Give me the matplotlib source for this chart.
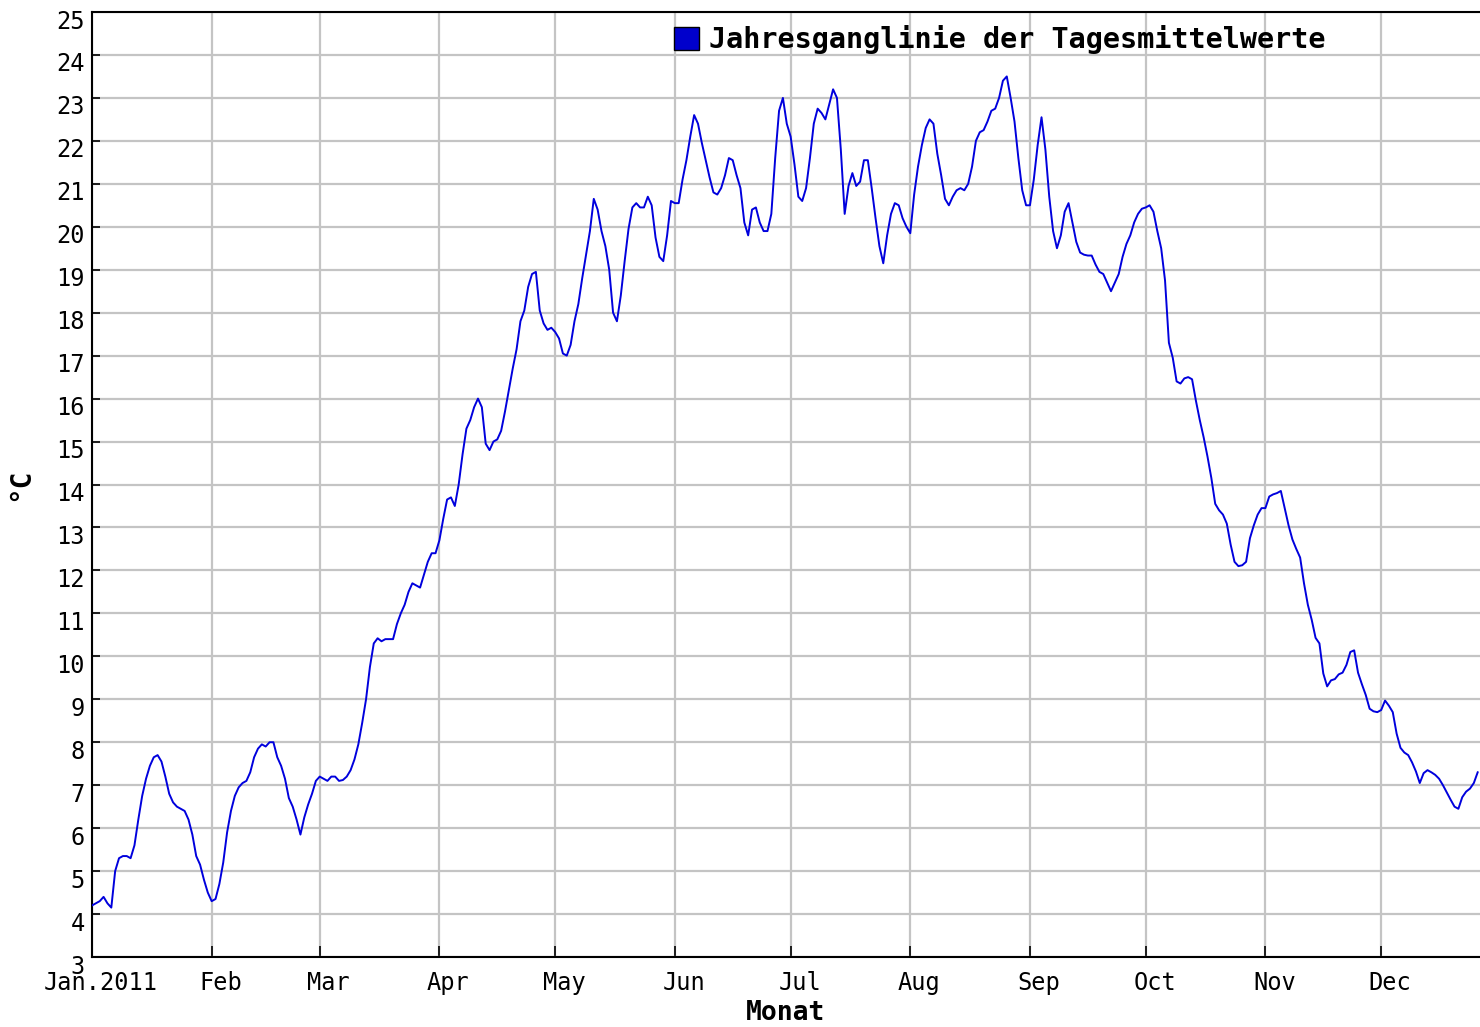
import numpy as np
import matplotlib
matplotlib.use("Agg")
import matplotlib.pyplot as plt
import matplotlib.transforms as mtransforms
from matplotlib.patches import Patch

# Tagesmittelwerte 2011 (°C), ein Wert pro Tag ab 1. Januar
jan = [4.2, 4.25, 4.3, 4.4, 4.25, 4.15, 5.0, 5.3, 5.35, 5.35, 5.3, 5.6, 6.2, 6.75, 7.15, 7.45,
       7.65, 7.7, 7.55, 7.2, 6.8, 6.6, 6.5, 6.45, 6.4, 6.2, 5.85, 5.35, 5.15, 4.8, 4.5]
feb = [4.3, 4.35, 4.7, 5.2, 5.9, 6.4, 6.75, 6.95, 7.05, 7.1, 7.3, 7.65, 7.85, 7.95, 7.9, 8.0,
       8.0, 7.65, 7.45, 7.15, 6.7, 6.5, 6.2, 5.85, 6.25, 6.55, 6.8, 7.1]
mar = [7.2, 7.15, 7.1, 7.2, 7.2, 7.1, 7.12, 7.2, 7.35, 7.6, 7.95, 8.45, 9.0, 9.75, 10.3, 10.42,
       10.35, 10.4, 10.4, 10.4, 10.75, 11.0, 11.2, 11.5, 11.7, 11.65, 11.6, 11.9, 12.2, 12.4, 12.4]
apr = [12.7, 13.2, 13.65, 13.7, 13.5, 14.0, 14.7, 15.3, 15.5, 15.8, 16.0, 15.8, 14.95, 14.8, 15.0,
       15.05, 15.25, 15.7, 16.2, 16.7, 17.15, 17.8, 18.05, 18.6, 18.9, 18.95, 18.05, 17.75, 17.6, 17.65]
may = [17.55, 17.4, 17.05, 17.0, 17.25, 17.8, 18.2, 18.8, 19.35, 19.9, 20.65, 20.4, 19.9, 19.55,
       19.0, 18.0, 17.8, 18.4, 19.2, 19.95, 20.45, 20.55, 20.45, 20.45, 20.7, 20.5, 19.75, 19.3,
       19.2, 19.8, 20.6]
jun = [20.55, 20.55, 21.1, 21.55, 22.1, 22.6, 22.4, 21.95, 21.55, 21.15, 20.8, 20.75, 20.9, 21.2,
       21.6, 21.55, 21.2, 20.9, 20.1, 19.8, 20.4, 20.45, 20.1, 19.9, 19.9, 20.3, 21.6, 22.7, 23.0, 22.4]
jul = [22.1, 21.45, 20.7, 20.6, 20.9, 21.6, 22.4, 22.75, 22.65, 22.5, 22.85, 23.2, 23.0, 21.8,
       20.3, 20.95, 21.25, 20.95, 21.05, 21.55, 21.55, 20.9, 20.2, 19.55, 19.15, 19.8, 20.3, 20.55,
       20.5, 20.2, 20.0]
aug = [19.85, 20.75, 21.4, 21.9, 22.3, 22.5, 22.4, 21.7, 21.2, 20.65, 20.5, 20.7, 20.85, 20.9,
       20.85, 21.0, 21.4, 22.0, 22.2, 22.25, 22.45, 22.7, 22.75, 23.0, 23.4, 23.5, 23.0, 22.45,
       21.6, 20.85, 20.5]
sep = [20.5, 21.1, 21.9, 22.55, 21.8, 20.7, 19.9, 19.5, 19.8, 20.35, 20.55, 20.1, 19.65, 19.4,
       19.35, 19.33, 19.33, 19.12, 18.95, 18.9, 18.7, 18.5, 18.7, 18.9, 19.3, 19.6, 19.8, 20.1,
       20.3, 20.42]
oct_ = [20.45, 20.5, 20.35, 19.9, 19.5, 18.75, 17.3, 16.95, 16.4, 16.35, 16.47, 16.5, 16.45, 15.95,
        15.5, 15.1, 14.65, 14.15, 13.55, 13.4, 13.3, 13.09, 12.6, 12.2, 12.1, 12.12, 12.2, 12.75,
        13.05, 13.3, 13.45]
nov = [13.45, 13.72, 13.77, 13.8, 13.85, 13.45, 13.05, 12.72, 12.5, 12.3, 11.7, 11.2, 10.85, 10.43,
       10.3, 9.6, 9.3, 9.44, 9.47, 9.58, 9.62, 9.8, 10.1, 10.14, 9.62, 9.35, 9.1, 8.78, 8.72, 8.7]
dec = [8.75, 8.97, 8.85, 8.7, 8.2, 7.87, 7.76, 7.7, 7.53, 7.32, 7.05, 7.28, 7.35, 7.3, 7.24, 7.15,
       7.0, 6.83, 6.66, 6.5, 6.45, 6.72, 6.85, 6.92, 7.05, 7.3]

month_start = [0, 31, 59, 90, 120, 151, 181, 212, 243, 273, 304, 334]
month_labels = ["Jan.2011", "Feb", "Mar", "Apr", "May", "Jun", "Jul", "Aug", "Sep", "Oct", "Nov", "Dec"]
y_ticks = list(range(3, 26))

temps = jan + feb + mar + apr + may + jun + jul + aug + sep + oct_ + nov + dec
days = np.arange(len(temps))

plt.rcParams['font.family'] = ['DejaVu Sans Mono']

fig = plt.figure(figsize=(14.8, 10.27), dpi=100)
ax = fig.add_axes([92 / 1480, 1 - 957 / 1027, 1 - 92 / 1480, (957 - 12) / 1027])

ax.plot(days, temps, color="#0000dd", linewidth=1.4, zorder=3)

ax.set_xlim(0, 359.6)
ax.set_ylim(3, 25)
ax.set_xticks(month_start)
ax.set_xticklabels(month_labels)
ax.set_yticks(y_ticks)
ax.set_yticklabels([str(v) for v in y_ticks])

ax.grid(True, color="#c4c4c4", linewidth=1.6, zorder=0)
ax.set_axisbelow(True)

ax.tick_params(axis="both", direction="in", labelsize=17, width=1.2, color="black")
ax.tick_params(axis="y", length=6, pad=5)
ax.tick_params(axis="x", length=8, pad=10)

for side in ["left", "bottom", "top"]:
    ax.spines[side].set_color("black")
    ax.spines[side].set_linewidth(1.5)
ax.spines["right"].set_visible(False)

# labels sit a bit off their ticks like in the original
dy = mtransforms.ScaledTranslation(0, -0.07, fig.dpi_scale_trans)
for lab in ax.get_yticklabels():
    lab.set_transform(lab.get_transform() + dy)
dx = mtransforms.ScaledTranslation(0.09, 0, fig.dpi_scale_trans)
for lab in ax.get_xticklabels():
    lab.set_transform(lab.get_transform() + dx)

ax.set_xlabel("Monat", fontsize=19, fontweight="bold")
ax.xaxis.set_label_coords(0.5, -0.045)
ax.set_ylabel("°C", fontsize=20, fontweight="bold")
ax.yaxis.set_label_coords(-0.042, 0.5)

handle = Patch(facecolor="#0000cc", edgecolor="black", linewidth=1)
fig.legend([handle], ["Jahresganglinie der Tagesmittelwerte"], loc="center left",
           bbox_to_anchor=(674 / 1480, 1 - 40 / 1027), frameon=False, borderpad=0,
           borderaxespad=0, handlelength=0.88, handleheight=0.88, handletextpad=0.35,
           prop={"family": "DejaVu Sans Mono", "weight": "bold", "size": 20.5})

fig.savefig("out.png", dpi=100)
